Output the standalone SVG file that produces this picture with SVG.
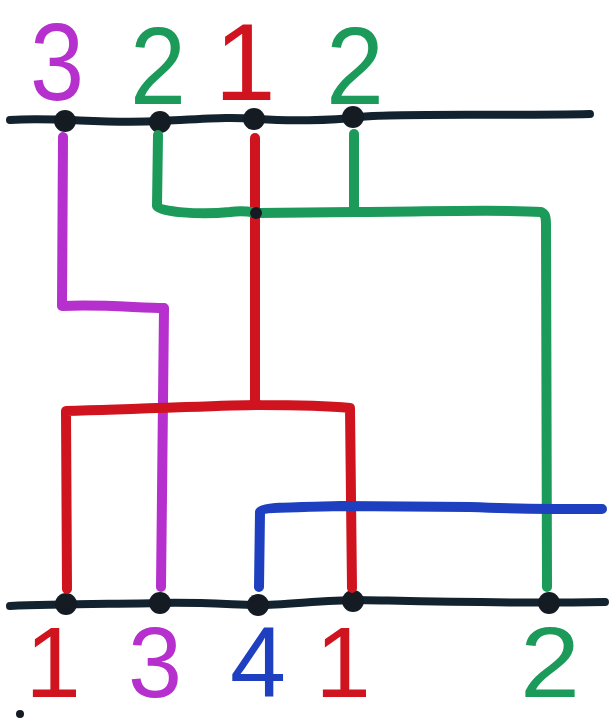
<svg xmlns="http://www.w3.org/2000/svg" width="610" height="719" viewBox="0 0 610 719">
<style>
.w{fill:none;stroke-width:10;stroke-linecap:round;stroke-linejoin:round}
.bus{fill:none;stroke:#12222f;stroke-width:8;stroke-linecap:round}
.mag{stroke:#b530cc}
.grn{stroke:#1c9a5a}
.red{stroke:#d0141f}
.blu{stroke:#1d3fc0}
.dot{fill:#151b22}
.lbl{font-family:"Liberation Sans",Arial,sans-serif;text-anchor:middle}
.big{font-size:110px}
.sm{font-size:100px}
</style>
<rect width="610" height="719" fill="#ffffff"/>
<g id="top-bus">
<path class="bus" d="M10,120 C60,117 100,124 160,121 S230,117 258,119 S330,121 360,117 S500,116 590,114"/>
<circle class="dot" cx="65" cy="121" r="11"/>
<circle class="dot" cx="160" cy="122" r="11"/>
<circle class="dot" cx="254" cy="119" r="11"/>
<circle class="dot" cx="353" cy="117" r="11"/>
</g>
<g id="bottom-bus">
<path class="bus" d="M10,606 C60,604 120,604 160,603 S240,605 260,605 S330,600 355,600 S480,604 605,602"/>
<circle class="dot" cx="66" cy="604" r="11"/>
<circle class="dot" cx="160" cy="603" r="11"/>
<circle class="dot" cx="258" cy="605" r="11"/>
<circle class="dot" cx="353" cy="601" r="11"/>
<circle class="dot" cx="549" cy="603" r="11"/>
</g>
<g id="connectors">
<path class="w mag" d="M63,137 L62,306 C100,304 140,308 164,308 L161,587"/>
<path class="w red" d="M255,138 L255,404"/>
<path class="w red" d="M67,589 L66,411 C150,409 250,404 260,405 C300,405 330,406 350,408 L352,588"/>
<path class="w grn" d="M158,135 L157,206 C158,212 200,215 230,212 C245,210 250,212 258,213 L355,212 C420,212 500,209 541,212 C545,214 546,216 546,225 L547,587"/>
<path class="w grn" d="M354,134 L354,212"/>
<path class="w blu" d="M259,587 L260,512 C262,507 300,507 340,506 L470,507 C520,509 560,509 602,509"/>
<circle class="dot" cx="256" cy="213" r="6"/>
</g>
<g id="top-labels">
<text class="lbl big" x="57" y="100" fill="#b530cc" textLength="54" lengthAdjust="spacingAndGlyphs">3</text>
<text class="lbl big" x="158" y="104" fill="#1c9a5a" textLength="56" lengthAdjust="spacingAndGlyphs">2</text>
<text class="lbl big" x="245" y="100" fill="#d0141f">1</text>
<text class="lbl big" x="355" y="104" fill="#1c9a5a" textLength="58" lengthAdjust="spacingAndGlyphs">2</text>
</g>
<g id="bottom-labels">
<text class="lbl sm" x="53" y="697" fill="#d0141f">1</text>
<text class="lbl sm" x="155" y="697" fill="#b530cc" textLength="54" lengthAdjust="spacingAndGlyphs">3</text>
<text class="lbl sm" x="258" y="697" fill="#1d3fc0" textLength="56" lengthAdjust="spacingAndGlyphs">4</text>
<text class="lbl sm" x="343" y="697" fill="#d0141f">1</text>
<text class="lbl sm" x="550" y="697" fill="#1c9a5a" textLength="60" lengthAdjust="spacingAndGlyphs">2</text>
</g>
<circle class="dot" cx="20" cy="714" r="4"/>
</svg>
